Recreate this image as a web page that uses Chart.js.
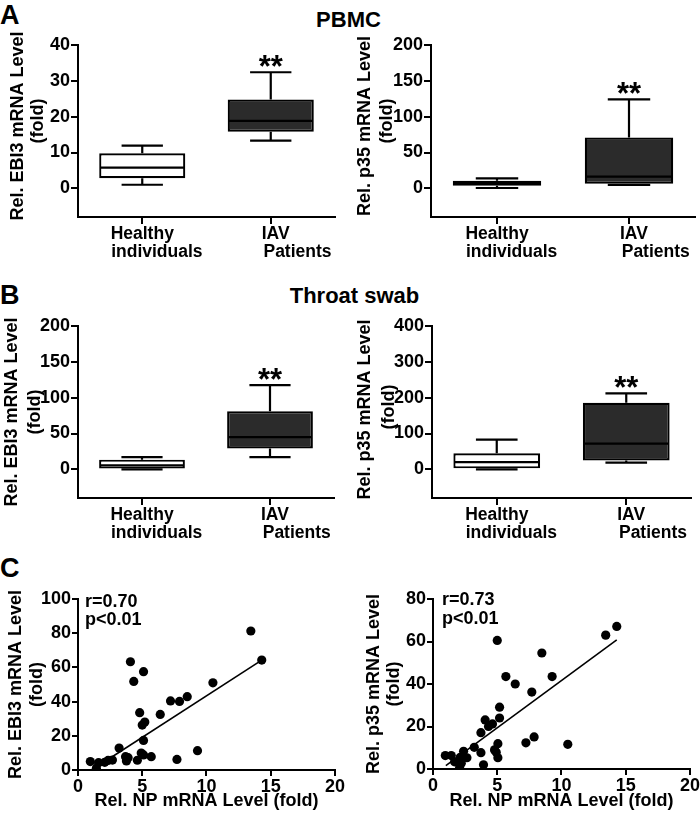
<!DOCTYPE html>
<html><head><meta charset="utf-8">
<script src="https://cdn.jsdelivr.net/npm/chart.js@4.4.0/dist/chart.umd.min.js"></script>
<style>
body{margin:0;background:#fff}
#wrap{position:relative;width:700px;height:813px;background:#fff;overflow:hidden}
canvas{position:absolute}
.t{position:absolute;font-family:"Liberation Sans",Arial,sans-serif;font-weight:bold;color:#000;white-space:nowrap}
</style></head><body>
<div id="wrap">
<div class="t" style="left:0;top:1.5px;font-size:27px;line-height:27px">A</div>
<div class="t" style="left:0;top:281.5px;font-size:27px;line-height:27px">B</div>
<div class="t" style="left:0;top:554.5px;font-size:27px;line-height:27px">C</div>
<div class="t" style="left:248.5px;width:200px;text-align:center;top:8.6px;font-size:22px;line-height:22px">PBMC</div>
<div class="t" style="left:254.5px;width:200px;text-align:center;top:285px;font-size:22px;line-height:22px">Throat swab</div>
<canvas id="a1" width="345" height="232" style="left:0;top:30px"></canvas>
<canvas id="a2" width="350" height="232" style="left:350px;top:30px"></canvas>
<canvas id="b1" width="345" height="243" style="left:0;top:300px"></canvas>
<canvas id="b2" width="350" height="243" style="left:350px;top:300px"></canvas>
<canvas id="c1" width="345" height="233" style="left:0;top:580px"></canvas>
<canvas id="c2" width="350" height="233" style="left:350px;top:580px"></canvas>
</div>
<script>
// ---------- data ----------
const groupLabels = [['Healthy', 'individuals'], ['IAV', 'Patients']];
// five-number summaries per group: [min, q1, median, q3, max]
const pbmcEbi3 = [[1.0, 2.8, 5.8, 9.8, 11.9], [13.3, 15.8, 18.8, 24.8, 32.4]];
const pbmcP35  = [[0.5, 3.5, 7.0, 10.5, 14.0], [4.7, 6.5, 16.3, 71.0, 124.0]];
const swabEbi3 = [[0.0, 1.0, 5.5, 13.5, 17.0], [17.0, 29.0, 45.0, 81.0, 117.5]];
const swabP35  = [[0.0, 0.0, 20.0, 45.0, 83.0], [18.6, 25.0, 72.0, 185.5, 212.0]];
const sigMark = '**';

// axis ranges [min, max, step]
const rangePbmcEbi3 = [-8, 40, 10];
const rangePbmcP35  = [-40, 200, 50];
const rangeSwabEbi3 = [-40, 200, 50];
const rangeSwabP35  = [-80, 400, 100];
const rangeNP = [0, 20, 5];
const rangeCorrEbi3 = [0, 100, 20];
const rangeCorrP35 = [0, 80, 20];

// correlation data (Rel. NP mRNA level vs cytokine)
const npForEbi3 = [0.96, 1.43, 1.6, 2.08, 2.34, 2.68, 3.2, 3.7, 3.77, 3.9, 4.08, 4.34, 4.62, 4.8, 4.92, 5.0, 5.1, 5.1, 5.2, 5.1, 5.7, 6.4, 7.2, 7.7, 7.9, 8.5, 9.3, 10.5, 13.45, 14.3];
const ebi3Vals  = [4.9, 1.0, 4.3, 4.5, 5.6, 5.8, 12.8, 7.8, 5.3, 7.2, 63.3, 51.8, 5.7, 33.5, 9.9, 26.3, 57.5, 17.3, 28.0, 8.8, 7.8, 32.5, 40.4, 6.2, 40.1, 42.9, 11.3, 51.0, 81.3, 64.3];
const npForP35 = [0.96, 1.42, 1.68, 2.12, 2.2, 2.07, 2.38, 2.64, 3.21, 3.73, 3.73, 3.93, 4.06, 4.32, 4.63, 4.79, 4.92, 5.0, 5.05, 5.05, 5.18, 5.18, 5.67, 6.4, 7.23, 7.69, 7.87, 8.47, 9.27, 10.49, 13.44, 14.3];
const p35Vals  = [6.3, 6.3, 3.4, 5.5, 2.7, 0.6, 8.3, 5.3, 10.2, 7.7, 17.1, 2.0, 23.1, 20.0, 21.2, 9.0, 7.9, 60.5, 11.9, 5.3, 24.0, 29.1, 43.5, 40.0, 12.3, 36.2, 15.1, 54.6, 43.5, 11.6, 63.0, 67.1];
const fitEbi3 = [[1.46, 1.9], [14.3, 64.3]];
const fitP35  = [[1.0, 1.6], [14.3, 60.8]];
const statsEbi3 = ['r=0.70', 'p<0.01'];
const statsP35  = ['r=0.73', 'p<0.01'];

const titleEbi3 = ['Rel. EBI3 mRNA Level', '(fold)'];
const titleP35  = ['Rel. p35 mRNA Level', '(fold)'];
const titleNP   = 'Rel. NP mRNA Level (fold)';

// ---------- styling ----------
const FONT = '"Liberation Sans", Arial, Helvetica, sans-serif';
Chart.defaults.font.family = FONT;
Chart.defaults.font.weight = 'bold';
Chart.defaults.font.size = 18;
Chart.defaults.color = '#000';
const labelIndent = [[0, 6], [2, 11]];

const boxPlugin = {
  id: 'boxWhisk',
  afterDatasetsDraw(chart, args, opts) {
    if (!opts || !opts.stats) return;
    const ctx = chart.ctx, y = chart.scales.y, meta = chart.getDatasetMeta(0);
    ctx.save();
    ctx.strokeStyle = '#000'; ctx.lineWidth = 2.2;
    opts.stats.forEach((s, i) => {
      const el = meta.data[i]; const x = el.x; const w = el.width;
      const [mn, q1, md, q3, mx] = s.map(v => y.getPixelForValue(v));
      const cw = w * 0.24;
      ctx.beginPath();
      if (mx < q3 - 0.5) { ctx.moveTo(x, q3); ctx.lineTo(x, mx); }
      ctx.moveTo(x - cw, mx); ctx.lineTo(x + cw, mx);
      if (mn > q1 + 0.5) { ctx.moveTo(x, q1); ctx.lineTo(x, mn); }
      ctx.moveTo(x - cw, mn); ctx.lineTo(x + cw, mn);
      ctx.moveTo(x - w / 2 + 1, md); ctx.lineTo(x + w / 2 - 1, md);
      ctx.stroke();
    });
    if (opts.sig) {
      const el = meta.data[opts.sigIndex];
      ctx.font = 'bold 31px ' + FONT; ctx.textAlign = 'center'; ctx.fillStyle = '#000';
      ctx.textBaseline = 'alphabetic';
      ctx.fillText(opts.sig, el.x, y.getPixelForValue(opts.stats[opts.sigIndex][4]) + 5);
    }
    ctx.restore();
  }
};
const corrText = {
  id: 'corrText',
  afterDraw(chart, args, opts) {
    if (!opts || !opts.lines) return;
    const ctx = chart.ctx, a = chart.chartArea;
    ctx.save();
    ctx.font = 'bold 18px ' + FONT; ctx.fillStyle = '#000'; ctx.textAlign = 'left'; ctx.textBaseline = 'alphabetic';
    opts.lines.forEach((t, i) => ctx.fillText(t, a.left + opts.dx, a.top + opts.dy + i * opts.gap));
    ctx.restore();
  }
};
Chart.register(boxPlugin, corrText);

function axisGrid(len) {
  return { drawOnChartArea: false, drawTicks: true, tickLength: len, color: '#000', lineWidth: 2 };
}

function boxChart(id, stats, range, title, pad, yW, titleStyle) {
  new Chart(document.getElementById(id), {
    type: 'bar',
    data: {
      labels: [0, 1],
      datasets: [{
        data: stats.map(s => [s[1], s[3]]),
        backgroundColor: ['#ffffff', '#2b2b2b'],
        borderColor: '#000', borderWidth: 2.2, borderSkipped: false,
        barPercentage: 0.67, categoryPercentage: 1
      }]
    },
    options: {
      responsive: false, animation: false, devicePixelRatio: 1,
      layout: { padding: pad },
      plugins: {
        legend: { display: false }, tooltip: { enabled: false },
        boxWhisk: { stats: stats, sig: sigMark, sigIndex: 1 }
      },
      scales: {
        x: {
          type: 'category', offset: true,
          grid: Object.assign(axisGrid(7), { offset: false }),
          border: { color: '#000', width: 2 },
          ticks: {
            padding: 1, font: { size: 17.5, weight: 'bold', lineHeight: 1.04 },
            callback: (v, i) => groupLabels[i].map((s, j) => ' '.repeat(labelIndent[i][j]) + s)
          },
          afterFit: s => { s.height = 45; }
        },
        y: {
          min: range[0], max: range[1],
          grid: axisGrid(7),
          border: { color: '#000', width: 2 },
          ticks: { stepSize: range[2], padding: 1, font: { size: 18, weight: 'bold' } },
          afterBuildTicks: s => { s.ticks = s.ticks.filter(t => t.value >= 0); },
          title: { display: true, text: title, font: { size: 18, weight: 'bold', lineHeight: titleStyle.lh }, padding: { top: titleStyle.pad, bottom: 0 } },
          afterFit: s => { s.width = yW; }
        }
      }
    }
  });
}

function corrChart(id, xs, ys, fit, range, title, lines, pad, yW, xH, titleStyle, txt) {
  new Chart(document.getElementById(id), {
    type: 'scatter',
    data: {
      datasets: [
        { data: xs.map((x, i) => ({ x: x, y: ys[i] })), pointRadius: 4.6, pointBackgroundColor: '#000', pointBorderWidth: 0, showLine: false },
        { data: fit.map(p => ({ x: p[0], y: p[1] })), showLine: true, borderColor: '#000', borderWidth: 1.6, pointRadius: 0 }
      ]
    },
    options: {
      responsive: false, animation: false, devicePixelRatio: 1,
      layout: { padding: pad },
      plugins: {
        legend: { display: false }, tooltip: { enabled: false },
        corrText: { lines: lines, dx: txt.dx, dy: txt.dy, gap: txt.gap }
      },
      scales: {
        x: {
          type: 'linear', min: rangeNP[0], max: rangeNP[1],
          grid: axisGrid(6), border: { color: '#000', width: 2 },
          ticks: { stepSize: rangeNP[2], padding: 0, font: { size: 18, weight: 'bold' } },
          title: { display: true, text: titleNP, font: { size: 18, weight: 'bold', lineHeight: 1.1 }, padding: { top: 0, bottom: 2 } },
          afterFit: s => { s.height = xH; }
        },
        y: {
          min: range[0], max: range[1],
          grid: axisGrid(6), border: { color: '#000', width: 2 },
          ticks: { stepSize: range[2], padding: 1, font: { size: 18, weight: 'bold' } },
          title: { display: true, text: title, font: { size: 18, weight: 'bold', lineHeight: titleStyle.lh }, padding: { top: titleStyle.pad, bottom: 0 } },
          afterFit: s => { s.width = yW; }
        }
      }
    }
  });
}

boxChart('a1', pbmcEbi3, rangePbmcEbi3, ['  ' + titleEbi3[0], '    ' + titleEbi3[1]], { top: 15, right: 10, left: 0, bottom: 0 }, 78, { lh: 1.1, pad: 8 });
boxChart('a2', pbmcP35, rangePbmcP35, ['  ' + titleP35[0], '    ' + titleP35[1]], { top: 15, right: 5, left: 0, bottom: 0 }, 81, { lh: 1.2, pad: 4.5 });
boxChart('b1', swabEbi3, rangeSwabEbi3, titleEbi3, { top: 26, right: 11, left: 0, bottom: 0 }, 78, { lh: 1.3, pad: 0 });
boxChart('b2', swabP35, rangeSwabP35, [' ' + titleP35[0], '  ' + titleP35[1]], { top: 26, right: 9, left: 0, bottom: 0 }, 82, { lh: 1.35, pad: 3 });
corrChart('c1', npForEbi3, ebi3Vals, fitEbi3, rangeCorrEbi3, titleEbi3, statsEbi3, { top: 19, right: 10, left: 0, bottom: 0 }, 78, 43, { lh: 1.15, pad: 5.5 }, { dx: 7, dy: 8, gap: 18 });
corrChart('c2', npForP35, p35Vals, fitP35, rangeCorrP35, titleP35, statsP35, { top: 19, right: 10, left: 0, bottom: 0 }, 83, 44, { lh: 1.1, pad: 14 }, { dx: 9, dy: 6, gap: 19 });
</script>
</body></html>
